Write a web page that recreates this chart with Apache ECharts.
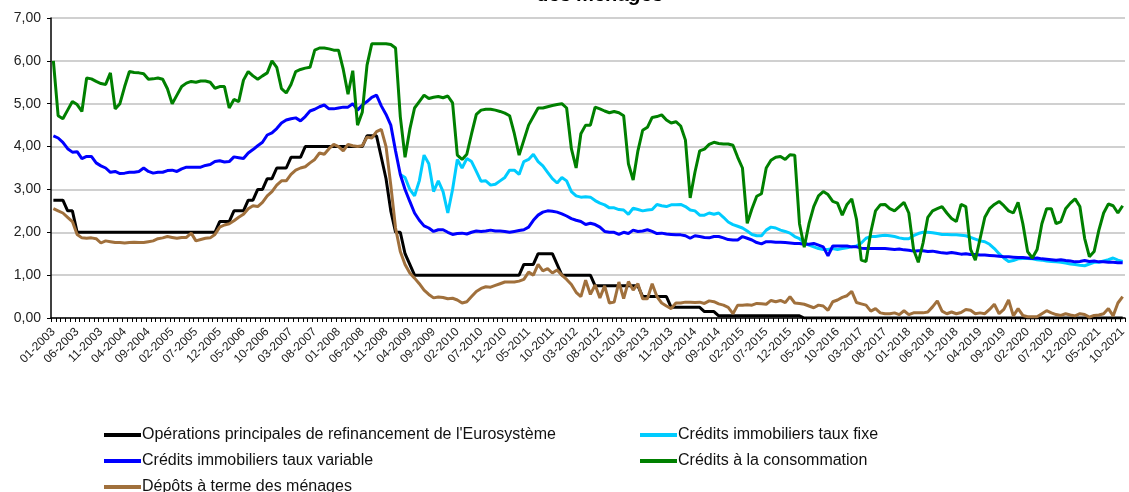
<!DOCTYPE html>
<html>
<head>
<meta charset="utf-8">
<title>Taux des ménages</title>
<script src="https://cdn.jsdelivr.net/npm/echarts@6/dist/echarts.min.js"></script>
<style>
    html, body { margin: 0; padding: 0; background: #fff; }
    #chart { width: 1129px; height: 492px; }
</style>
</head>
<body>
<div id="chart"></div>
<script>
// months 01-2003 .. 10-2021
var months = [];
for (var y = 2003; y <= 2021; y++) {
    for (var m = 1; m <= 12; m++) {
        if (y === 2021 && m > 10) break;
        months.push((m < 10 ? '0' + m : '' + m) + '-' + y);
    }
}

var names = [
    'Opérations principales de refinancement de l\'Eurosystème',
    'Crédits immobiliers taux fixe',
    'Crédits immobiliers taux variable',
    'Crédits à la consommation',
    'Dépôts à terme des ménages'
];

// one row per year
var refi = [
    2.75, 2.75, 2.75, 2.50, 2.50, 2.00, 2.00, 2.00, 2.00, 2.00, 2.00, 2.00,
    2.00, 2.00, 2.00, 2.00, 2.00, 2.00, 2.00, 2.00, 2.00, 2.00, 2.00, 2.00,
    2.00, 2.00, 2.00, 2.00, 2.00, 2.00, 2.00, 2.00, 2.00, 2.00, 2.00, 2.25,
    2.25, 2.25, 2.50, 2.50, 2.50, 2.75, 2.75, 3.00, 3.00, 3.25, 3.25, 3.50,
    3.50, 3.50, 3.75, 3.75, 3.75, 4.00, 4.00, 4.00, 4.00, 4.00, 4.00, 4.00,
    4.00, 4.00, 4.00, 4.00, 4.00, 4.00, 4.25, 4.25, 4.25, 3.75, 3.25, 2.50,
    2.00, 2.00, 1.50, 1.25, 1.00, 1.00, 1.00, 1.00, 1.00, 1.00, 1.00, 1.00,
    1.00, 1.00, 1.00, 1.00, 1.00, 1.00, 1.00, 1.00, 1.00, 1.00, 1.00, 1.00,
    1.00, 1.00, 1.00, 1.25, 1.25, 1.25, 1.50, 1.50, 1.50, 1.50, 1.25, 1.00,
    1.00, 1.00, 1.00, 1.00, 1.00, 1.00, 0.75, 0.75, 0.75, 0.75, 0.75, 0.75,
    0.75, 0.75, 0.75, 0.75, 0.50, 0.50, 0.50, 0.50, 0.50, 0.50, 0.25, 0.25,
    0.25, 0.25, 0.25, 0.25, 0.25, 0.15, 0.15, 0.15, 0.05, 0.05, 0.05, 0.05,
    0.05, 0.05, 0.05, 0.05, 0.05, 0.05, 0.05, 0.05, 0.05, 0.05, 0.05, 0.05,
    0.05, 0.05, 0, 0, 0, 0, 0, 0, 0, 0, 0, 0,
    0, 0, 0, 0, 0, 0, 0, 0, 0, 0, 0, 0,
    0, 0, 0, 0, 0, 0, 0, 0, 0, 0, 0, 0,
    0, 0, 0, 0, 0, 0, 0, 0, 0, 0, 0, 0,
    0, 0, 0, 0, 0, 0, 0, 0, 0, 0, 0, 0,
    0, 0, 0, 0, 0, 0, 0, 0, 0, 0
];

var tauxFixe = [
    null, null, null, null, null, null, null, null, null, null, null, null,
    null, null, null, null, null, null, null, null, null, null, null, null,
    null, null, null, null, null, null, null, null, null, null, null, null,
    null, null, null, null, null, null, null, null, null, null, null, null,
    null, null, null, null, null, null, null, null, null, null, null, null,
    null, null, null, null, null, null, null, null, null, null, null, null,
    null, 3.35, 3.28, 3.00, 2.85, 3.20, 3.80, 3.60, 2.95, 3.20, 2.95, 2.45,
    3.00, 3.70, 3.50, 3.72, 3.65, 3.42, 3.19, 3.20, 3.10, 3.12, 3.20, 3.28,
    3.45, 3.45, 3.35, 3.65, 3.70, 3.82, 3.65, 3.55, 3.40, 3.25, 3.15, 3.28,
    3.20, 2.95, 2.85, 2.82, 2.83, 2.82, 2.74, 2.68, 2.64, 2.57, 2.57, 2.53,
    2.52, 2.42, 2.56, 2.53, 2.50, 2.52, 2.53, 2.65, 2.62, 2.60, 2.64, 2.64,
    2.65, 2.60, 2.52, 2.50, 2.40, 2.40, 2.45, 2.42, 2.45, 2.35, 2.24, 2.18,
    2.14, 2.10, 2.03, 1.95, 1.92, 1.92, 2.05, 2.12, 2.10, 2.05, 2.02, 1.98,
    1.90, 1.85, 1.76, 1.70, 1.66, 1.62, 1.60, 1.60, 1.62, 1.60, 1.62, 1.64,
    1.66, 1.68, 1.75, 1.86, 1.90, 1.90, 1.92, 1.93, 1.92, 1.90, 1.87, 1.85,
    1.85, 1.92, 1.97, 2.00, 2.00, 1.99, 1.97, 1.95, 1.95, 1.94, 1.94, 1.93,
    1.92, 1.88, 1.84, 1.80, 1.78, 1.72, 1.62, 1.50, 1.40, 1.32, 1.34, 1.38,
    1.39, 1.39, 1.38, 1.36, 1.35, 1.33, 1.32, 1.31, 1.30, 1.28, 1.26, 1.25,
    1.23, 1.22, 1.26, 1.30, 1.30, 1.33, 1.36, 1.40, 1.35, 1.32
];

var tauxVariable = [
    4.25, 4.20, 4.10, 3.95, 3.87, 3.88, 3.72, 3.77, 3.77, 3.62, 3.55, 3.50,
    3.40, 3.42, 3.37, 3.38, 3.40, 3.40, 3.42, 3.50, 3.42, 3.38, 3.40, 3.40,
    3.44, 3.45, 3.42, 3.48, 3.52, 3.52, 3.52, 3.52, 3.56, 3.58, 3.65, 3.67,
    3.64, 3.65, 3.76, 3.74, 3.72, 3.85, 3.93, 4.02, 4.10, 4.27, 4.32, 4.42,
    4.55, 4.62, 4.65, 4.67, 4.60, 4.70, 4.83, 4.87, 4.93, 4.97, 4.88, 4.88,
    4.90, 4.92, 4.92, 5.00, 4.85, 4.97, 5.05, 5.15, 5.20, 4.95, 4.75, 4.50,
    3.90, 3.35, 3.00, 2.72, 2.45, 2.28, 2.15, 2.10, 2.02, 2.06, 2.06, 2.00,
    1.95, 1.97, 1.98, 1.96, 2.00, 2.03, 2.02, 2.03, 2.05, 2.03, 2.03, 2.02,
    2.00, 2.02, 2.04, 2.06, 2.12, 2.28, 2.40, 2.47, 2.50, 2.49, 2.47, 2.43,
    2.38, 2.32, 2.28, 2.25, 2.18, 2.21, 2.18, 2.12, 2.02, 2.00, 2.00, 1.95,
    2.00, 1.97, 2.05, 2.02, 2.03, 2.06, 2.02, 1.97, 1.98, 1.96, 1.95, 1.94,
    1.94, 1.92, 1.86, 1.92, 1.90, 1.88, 1.87, 1.90, 1.90, 1.87, 1.83, 1.82,
    1.82, 1.90, 1.86, 1.82, 1.76, 1.73, 1.78, 1.78, 1.77, 1.77, 1.76, 1.75,
    1.74, 1.74, 1.72, 1.72, 1.74, 1.70, 1.66, 1.45, 1.68, 1.68, 1.68, 1.68,
    1.66, 1.66, 1.63, 1.62, 1.62, 1.62, 1.62, 1.62, 1.61, 1.60, 1.61, 1.59,
    1.58, 1.56, 1.57, 1.57, 1.55, 1.56, 1.54, 1.52, 1.51, 1.53, 1.51, 1.49,
    1.50, 1.48, 1.48, 1.47, 1.47, 1.46, 1.45, 1.44, 1.43, 1.43, 1.42, 1.41,
    1.41, 1.40, 1.39, 1.40, 1.38, 1.37, 1.36, 1.35, 1.36, 1.34, 1.33, 1.31,
    1.32, 1.34, 1.32, 1.33, 1.31, 1.31, 1.30, 1.30, 1.29, 1.29
];

var consommation = [
    6.00, 4.72, 4.65, 4.85, 5.05, 4.98, 4.82, 5.60, 5.58, 5.52, 5.47, 5.45,
    5.72, 4.88, 5.00, 5.40, 5.75, 5.73, 5.72, 5.70, 5.57, 5.58, 5.60, 5.57,
    5.35, 5.00, 5.20, 5.40, 5.48, 5.52, 5.50, 5.53, 5.53, 5.50, 5.36, 5.40,
    5.40, 4.90, 5.10, 5.05, 5.55, 5.75, 5.65, 5.57, 5.65, 5.72, 6.00, 5.85,
    5.35, 5.25, 5.45, 5.75, 5.80, 5.83, 5.85, 6.25, 6.30, 6.30, 6.28, 6.25,
    6.25, 5.80, 5.22, 5.77, 4.50, 4.80, 5.90, 6.40, 6.40, 6.40, 6.40, 6.38,
    6.30, 4.70, 3.75, 4.40, 4.90, 5.05, 5.20, 5.12, 5.15, 5.17, 5.14, 5.18,
    5.02, 3.80, 3.70, 3.82, 4.30, 4.75, 4.85, 4.87, 4.87, 4.85, 4.82, 4.78,
    4.72, 4.30, 3.80, 4.15, 4.50, 4.70, 4.90, 4.90, 4.93, 4.96, 4.98, 5.00,
    4.90, 3.95, 3.50, 4.30, 4.50, 4.50, 4.92, 4.88, 4.83, 4.79, 4.82, 4.79,
    4.72, 3.60, 3.22, 3.90, 4.38, 4.45, 4.68, 4.70, 4.74, 4.62, 4.55, 4.58,
    4.48, 4.15, 2.80, 3.40, 3.90, 3.94, 4.05, 4.10, 4.07, 4.06, 4.06, 4.03,
    3.75, 3.50, 2.21, 2.55, 2.84, 2.90, 3.50, 3.68, 3.75, 3.77, 3.70, 3.81,
    3.80, 2.20, 1.65, 2.20, 2.60, 2.85, 2.95, 2.88, 2.72, 2.68, 2.40, 2.65,
    2.78, 2.30, 1.35, 1.32, 2.00, 2.50, 2.64, 2.65, 2.55, 2.50, 2.60, 2.70,
    2.45, 1.60, 1.30, 1.75, 2.35, 2.50, 2.55, 2.60, 2.45, 2.32, 2.25, 2.65,
    2.60, 1.60, 1.35, 1.85, 2.35, 2.55, 2.65, 2.72, 2.62, 2.50, 2.45, 2.70,
    2.20, 1.55, 1.40, 1.60, 2.20, 2.55, 2.55, 2.20, 2.25, 2.55, 2.68, 2.78,
    2.60, 1.86, 1.43, 1.55, 2.05, 2.45, 2.66, 2.62, 2.45, 2.62
];

var depots = [
    2.55, 2.50, 2.45, 2.35, 2.25, 1.95, 1.87, 1.86, 1.87, 1.85, 1.75, 1.80,
    1.78, 1.76, 1.76, 1.75, 1.76, 1.77, 1.76, 1.76, 1.78, 1.80, 1.85, 1.87,
    1.90, 1.88, 1.86, 1.88, 1.88, 1.98, 1.80, 1.83, 1.86, 1.87, 1.95, 2.12,
    2.17, 2.20, 2.27, 2.35, 2.42, 2.55, 2.62, 2.60, 2.70, 2.85, 2.95, 3.10,
    3.20, 3.20, 3.35, 3.45, 3.50, 3.53, 3.62, 3.70, 3.85, 3.82, 3.95, 4.05,
    4.00, 3.90, 4.05, 4.02, 4.00, 4.02, 4.22, 4.20, 4.35, 4.40, 4.00, 3.10,
    2.10, 1.55, 1.25, 1.05, 0.93, 0.80, 0.65, 0.55, 0.47, 0.49, 0.48, 0.45,
    0.46, 0.42, 0.35, 0.38, 0.50, 0.62, 0.69, 0.73, 0.72, 0.76, 0.80, 0.84,
    0.84, 0.84, 0.86, 0.90, 1.07, 1.00, 1.25, 1.10, 1.15, 1.05, 1.12, 1.00,
    0.90, 0.78, 0.60, 0.50, 0.88, 0.55, 0.77, 0.47, 0.75, 0.35, 0.37, 0.84,
    0.45, 0.85, 0.65, 0.80, 0.45, 0.45, 0.80, 0.50, 0.35, 0.28, 0.22, 0.35,
    0.35, 0.37, 0.37, 0.36, 0.37, 0.34, 0.40, 0.38, 0.33, 0.30, 0.25, 0.10,
    0.30, 0.30, 0.31, 0.30, 0.34, 0.33, 0.32, 0.41, 0.38, 0.41, 0.36, 0.50,
    0.35, 0.34, 0.32, 0.28, 0.24, 0.30, 0.28, 0.18, 0.38, 0.42, 0.48, 0.52,
    0.62, 0.36, 0.33, 0.30, 0.16, 0.22, 0.12, 0.10, 0.10, 0.12, 0.08, 0.17,
    0.08, 0.12, 0.12, 0.12, 0.14, 0.26, 0.40, 0.16, 0.10, 0.14, 0.10, 0.13,
    0.20, 0.18, 0.10, 0.12, 0.10, 0.20, 0.32, 0.10, 0.20, 0.42, 0.05, 0.22,
    0.06, 0.03, 0.03, 0.03, 0.10, 0.17, 0.12, 0.08, 0.06, 0.10, 0.07, 0.05,
    0.10, 0.08, 0.02, 0.06, 0.07, 0.10, 0.22, 0.05, 0.35, 0.50
];

var colors = ['#000000', '#00ccff', '#0000ff', '#008000', '#a0703c'];
var font = 'Arial, "Liberation Sans", sans-serif';

// legend slots: [left, top] for each series, two columns
var legendPos = [[104, 427], [640, 427], [104, 453], [640, 453], [104, 479]];

var chart = echarts.init(document.getElementById('chart'));

function legendItem(i) {
    return {
        data: [names[i]],
        left: legendPos[i][0],
        top: legendPos[i][1],
        padding: 0,
        itemWidth: 37,
        itemHeight: 4,
        icon: 'rect',
        textStyle: { fontSize: 16, color: '#111', fontFamily: font, lineHeight: 16, padding: [0, 0, 0, -4] }
    };
}

function lineSeries(i, data) {
    return {
        name: names[i],
        type: 'line',
        data: data,
        showSymbol: false,
        symbol: 'none',
        lineStyle: { width: 3, color: colors[i] },
        itemStyle: { color: colors[i] },
        connectNulls: false
    };
}

chart.setOption({
    animation: false,
    textStyle: { fontFamily: font },
    title: {
        text: 'des ménages',
        left: 537,
        top: -15,
        padding: 0,
        textStyle: { fontSize: 20, fontWeight: 'bold', fontStyle: 'italic', color: '#000', fontFamily: font }
    },
    legend: [legendItem(0), legendItem(1), legendItem(2), legendItem(3), legendItem(4)],
    grid: { left: 51, right: 0, top: 18, bottom: 174 },
    xAxis: {
        type: 'category',
        data: months,
        boundaryGap: true,
        axisLine: { lineStyle: { color: '#000', width: 1.5 } },
        axisTick: { show: true, interval: 0, length: 4, lineStyle: { color: '#000' } },
        axisLabel: { interval: 4, rotate: 45, fontSize: 12, color: '#222', margin: 12, fontFamily: font },
        splitLine: { show: false }
    },
    yAxis: {
        type: 'value',
        min: 0,
        max: 7,
        interval: 1,
        axisLine: { show: true, lineStyle: { color: '#000', width: 1.5 } },
        axisTick: { show: true, length: 4, lineStyle: { color: '#000' } },
        axisLabel: {
            fontSize: 14, color: '#222', margin: 10, fontFamily: font,
            formatter: function (v) { return v.toFixed(2).replace('.', ','); }
        },
        splitLine: { lineStyle: { color: '#c0c0c0', width: 1.5 } }
    },
    series: [
        lineSeries(0, refi),
        lineSeries(1, tauxFixe),
        lineSeries(2, tauxVariable),
        lineSeries(3, consommation),
        lineSeries(4, depots)
    ]
});
</script>
</body>
</html>
